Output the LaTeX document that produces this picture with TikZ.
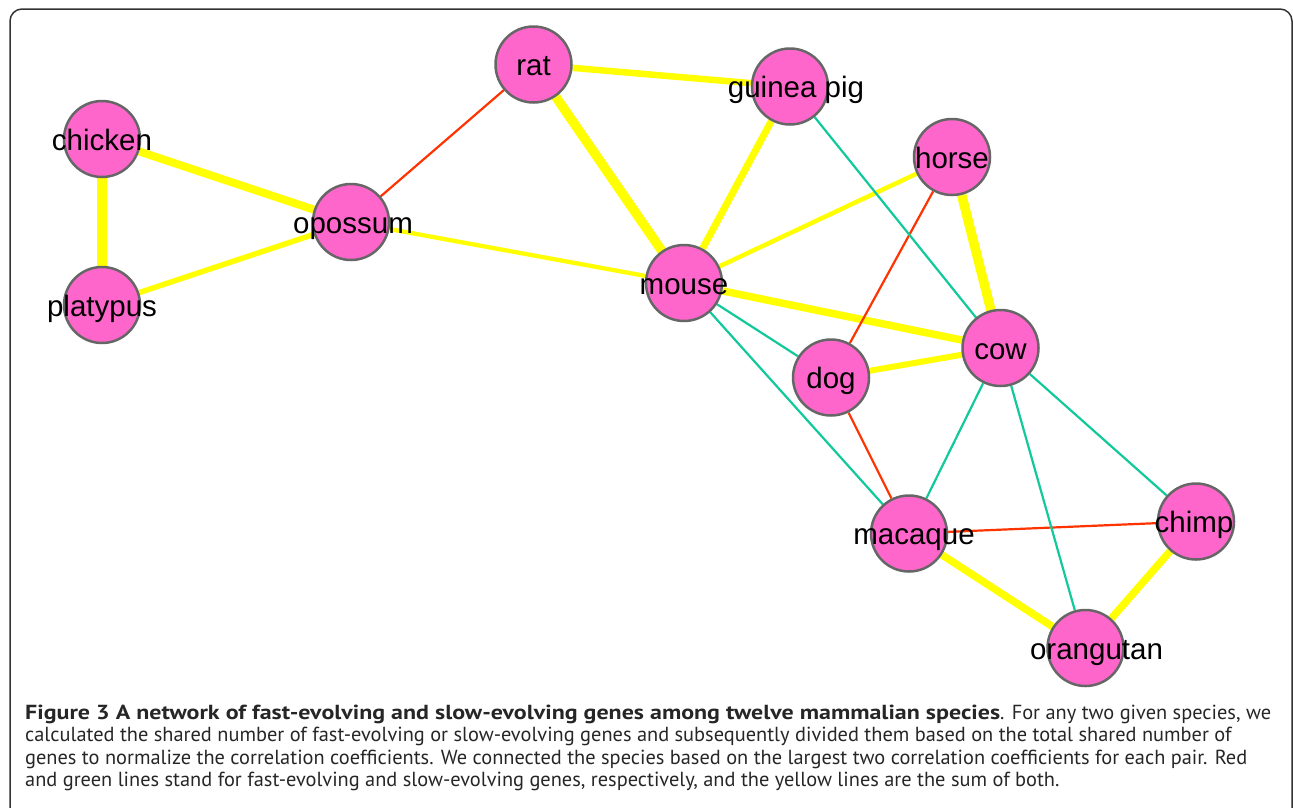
\documentclass[tikz,border=0pt]{standalone}
\usepackage{fontspec}
\usepackage{graphicx}
\setmainfont{Liberation Sans}
\newfontfamily\capfont{PT Sans}
\usetikzlibrary{backgrounds}
\definecolor{nodepink}{HTML}{FF66CC}
\definecolor{nodeborder}{HTML}{666666}
\definecolor{yel}{HTML}{FFFF00}
\definecolor{redl}{HTML}{FF3300}
\definecolor{grnl}{HTML}{11C99A}
\definecolor{framecol}{HTML}{333333}
\newlength\capwidth
\newlength\boldwidth
\newcommand\splabel[2][0pt]{\makebox[0pt][c]{\hspace*{#1}#2}}
\newcommand\boldpart{Figure 3 A network of fast-evolving and slow-evolving genes among twelve mammalian species}
\begin{document}
\settowidth{\capwidth}{\capfont\fontsize{10}{12}\selectfont genes to normalize the correlation coefficients. We connected the species based on the largest two correlation coefficients for each pair. Red}%
\settowidth{\boldwidth}{\capfont\bfseries\fontsize{10}{12}\selectfont\boldpart}%
\pgfmathsetmacro\capsize{10*1222/\capwidth}%
\pgfmathsetmacro\bfstretch{975/(\boldwidth*\capsize/10)}%
\begin{tikzpicture}[x=1pt,y=-1pt,
  species/.style={circle, fill=nodepink, draw=nodeborder, line width=2.5pt,
    minimum size=76pt, inner sep=0pt, text height=22pt, text depth=0pt,
    font=\fontsize{29.5}{34}\selectfont},
  yline/.style={draw=yel, line width=#1},
  fastline/.style={draw=redl, line width=2.2pt},
  slowline/.style={draw=grnl, line width=2.2pt},
  capline/.style={anchor=base west, inner sep=0pt, text=black!85,
    font=\capfont\fontsize{\capsize}{\capsize}\selectfont}
]
\useasboundingbox (0,0) rectangle (1293,807);
\draw[framecol, line width=1.5pt, rounded corners=12pt] (10,9) rectangle (1292,870);

% species
\node[species] (chicken)   at (102,139)   {\splabel{chicken}};
\node[species] (platypus)  at (102,305)   {\splabel{platypus}};
\node[species] (opossum)   at (351,222)   {\splabel[4pt]{opossum}};
\node[species] (rat)       at (533.5,64.5){\splabel{rat}};
\node[species] (guineapig) at (790,86.5)  {\splabel[12pt]{guinea pig}};
\node[species] (horse)     at (952,157)   {\splabel{horse}};
\node[species] (mouse)     at (684,283)   {\splabel{mouse}};
\node[species] (cow)       at (1000.5,348){\splabel{cow}};
\node[species] (dog)       at (831,377.5) {\splabel{dog}};
\node[species] (macaque)   at (909,533.5) {\splabel[10pt]{macaque}};
\node[species] (chimp)     at (1196,521.5){\splabel[-4pt]{chimp}};
\node[species] (orangutan) at (1085.5,648){\splabel[22pt]{orangutan}};

\begin{pgfonlayer}{background}
  % sum of both (yellow)
  \draw[yline=10pt]  (chicken) -- (platypus);
  \draw[yline=8pt]   (chicken) -- (opossum);
  \draw[yline=5.5pt] (platypus) -- (opossum);
  \draw[yline=4.3pt] (opossum) -- (mouse);
  \draw[yline=6.5pt] (rat) -- (guineapig);
  \draw[yline=9.5pt] (rat) -- (mouse);
  \draw[yline=7pt]   (guineapig) -- (mouse);
  \draw[yline=4.5pt] (horse) -- (mouse);
  \draw[yline=7.5pt] (mouse) -- (cow);
  \draw[yline=9.5pt] (horse) -- (cow);
  \draw[yline=6pt]   (dog) -- (cow);
  \draw[yline=7.5pt] (macaque) -- (orangutan);
  \draw[yline=7.5pt] (chimp) -- (orangutan);
  % fast-evolving (red)
  \draw[fastline] (opossum) -- (rat);
  \draw[fastline] (horse) -- (dog);
  \draw[fastline] (dog) -- (macaque);
  \draw[fastline] (macaque) -- (chimp);
  % slow-evolving (green)
  \draw[slowline] (guineapig) -- (cow);
  \draw[slowline] (mouse) -- (dog);
  \draw[slowline] (mouse) -- (macaque);
  \draw[slowline] (cow) -- (macaque);
  \draw[slowline] (cow) -- (orangutan);
  \draw[slowline] (cow) -- (chimp);
\end{pgfonlayer}

% caption
\node[capline] (cap1) at (25,719) {\scalebox{\bfstretch}[1]{\bfseries\boldpart}. For any two given species, we};
\node[capline] (cap2) at (25,741.5) {calculated the shared number of fast-evolving or slow-evolving genes and subsequently divided them based on the total shared number of};
\node[capline] (cap3) at (25,764) {genes to normalize the correlation coefficients. We connected the species based on the largest two correlation coefficients for each pair. Red};
\node[capline] (cap4) at (25,786) {and green lines stand for fast-evolving and slow-evolving genes, respectively, and the yellow lines are the sum of both.};
\end{tikzpicture}
\end{document}
